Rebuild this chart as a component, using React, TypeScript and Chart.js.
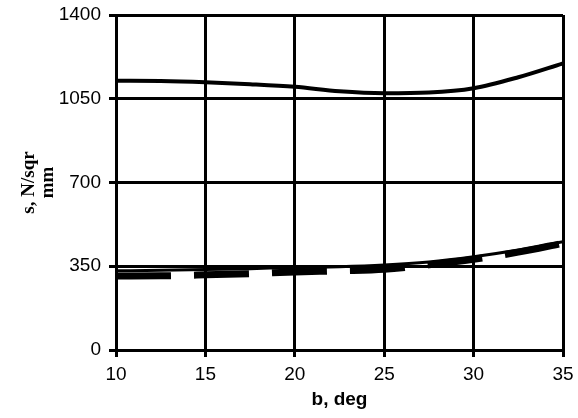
import React, { useEffect, useRef } from "react";
import { Chart, registerables } from "chart.js";

Chart.register(...registerables);

const angles = [10, 12.5, 15, 17.5, 20, 22.5, 25, 27.5, 30, 32.5, 35];
const upperStress = [1125, 1124, 1119, 1111, 1100, 1081, 1073, 1076, 1094, 1140, 1198];
const lowerSolid = [331, 333, 336, 340, 345, 348, 355, 368, 390, 418, 452];
const lowerDashed = [309, 310, 314, 319, 326, 331, 337, 356, 379, 409, 446];
const xTicks = [10, 15, 20, 25, 30, 35];
const yTicks = [0, 350, 700, 1050, 1400];

const toPoints = (ys: number[]) => angles.map((x, i) => ({ x, y: ys[i] }));

export default function App() {
  const ref = useRef<HTMLCanvasElement | null>(null);
  useEffect(() => {
    if (!ref.current) return;
    const chart = new Chart(ref.current, {
      type: "line",
      data: {
        datasets: [
          {
            data: toPoints(upperStress),
            borderColor: "#000",
            borderWidth: 4,
            pointRadius: 0,
            cubicInterpolationMode: "monotone",
          },
          {
            data: toPoints(lowerDashed),
            borderColor: "#000",
            borderWidth: 7,
            borderDash: [55, 23],
            borderCapStyle: "butt",
            pointRadius: 0,
            cubicInterpolationMode: "monotone",
          },
          {
            data: toPoints(lowerSolid),
            borderColor: "#000",
            borderWidth: 3,
            pointRadius: 0,
            cubicInterpolationMode: "monotone",
          },
        ],
      },
      options: {
        animation: false,
        responsive: false,
        maintainAspectRatio: false,
        layout: { padding: { left: 20, right: 15, top: 15, bottom: 0 } },
        plugins: { legend: { display: false }, tooltip: { enabled: false } },
        scales: {
          x: {
            type: "linear",
            min: 10,
            max: 35,
            afterBuildTicks: (s: any) => {
              s.ticks = xTicks.map((v) => ({ value: v }));
            },
            afterFit: (s: any) => {
              s.height = 68;
              s.paddingLeft = 0;
              s.paddingRight = 0;
            },
            ticks: {
              color: "#000",
              font: { family: "Liberation Sans", size: 19 },
              padding: 6,
              maxRotation: 0,
              callback: (v: any) => String(v),
            },
            grid: { color: "#000", lineWidth: 3, tickLength: 7 },
            border: { color: "#000", width: 3 },
            title: {
              display: true,
              text: "b, deg",
              color: "#000",
              font: { family: "Liberation Sans", size: 19, weight: "bold" },
              padding: { top: 2, bottom: 7 },
            },
          },
          y: {
            type: "linear",
            min: 0,
            max: 1400,
            afterBuildTicks: (s: any) => {
              s.ticks = yTicks.map((v) => ({ value: v }));
            },
            afterFit: (s: any) => {
              s.width = 96;
              s.paddingTop = 0;
              s.paddingBottom = 0;
            },
            ticks: {
              color: "#000",
              font: { family: "Liberation Sans", size: 19 },
              padding: 8,
              callback: (v: any) => String(v),
            },
            grid: { color: "#000", lineWidth: 3, tickLength: 7 },
            border: { color: "#000", width: 3 },
            title: {
              display: true,
              text: ["s, N/sqr", "mm"],
              color: "#000",
              font: { family: "Liberation Serif", size: 19, weight: "bold", lineHeight: 1.0 },
              padding: { top: 0, bottom: 6 },
            },
          },
        },
      },
    } as any);
    return () => chart.destroy();
  }, []);
  return (
    <div style={{ position: "fixed", left: 0, top: 0, width: 578, height: 418, background: "#fff" }}>
      <canvas ref={ref} width={578} height={418} style={{ width: 578, height: 418 }} />
    </div>
  );
}
